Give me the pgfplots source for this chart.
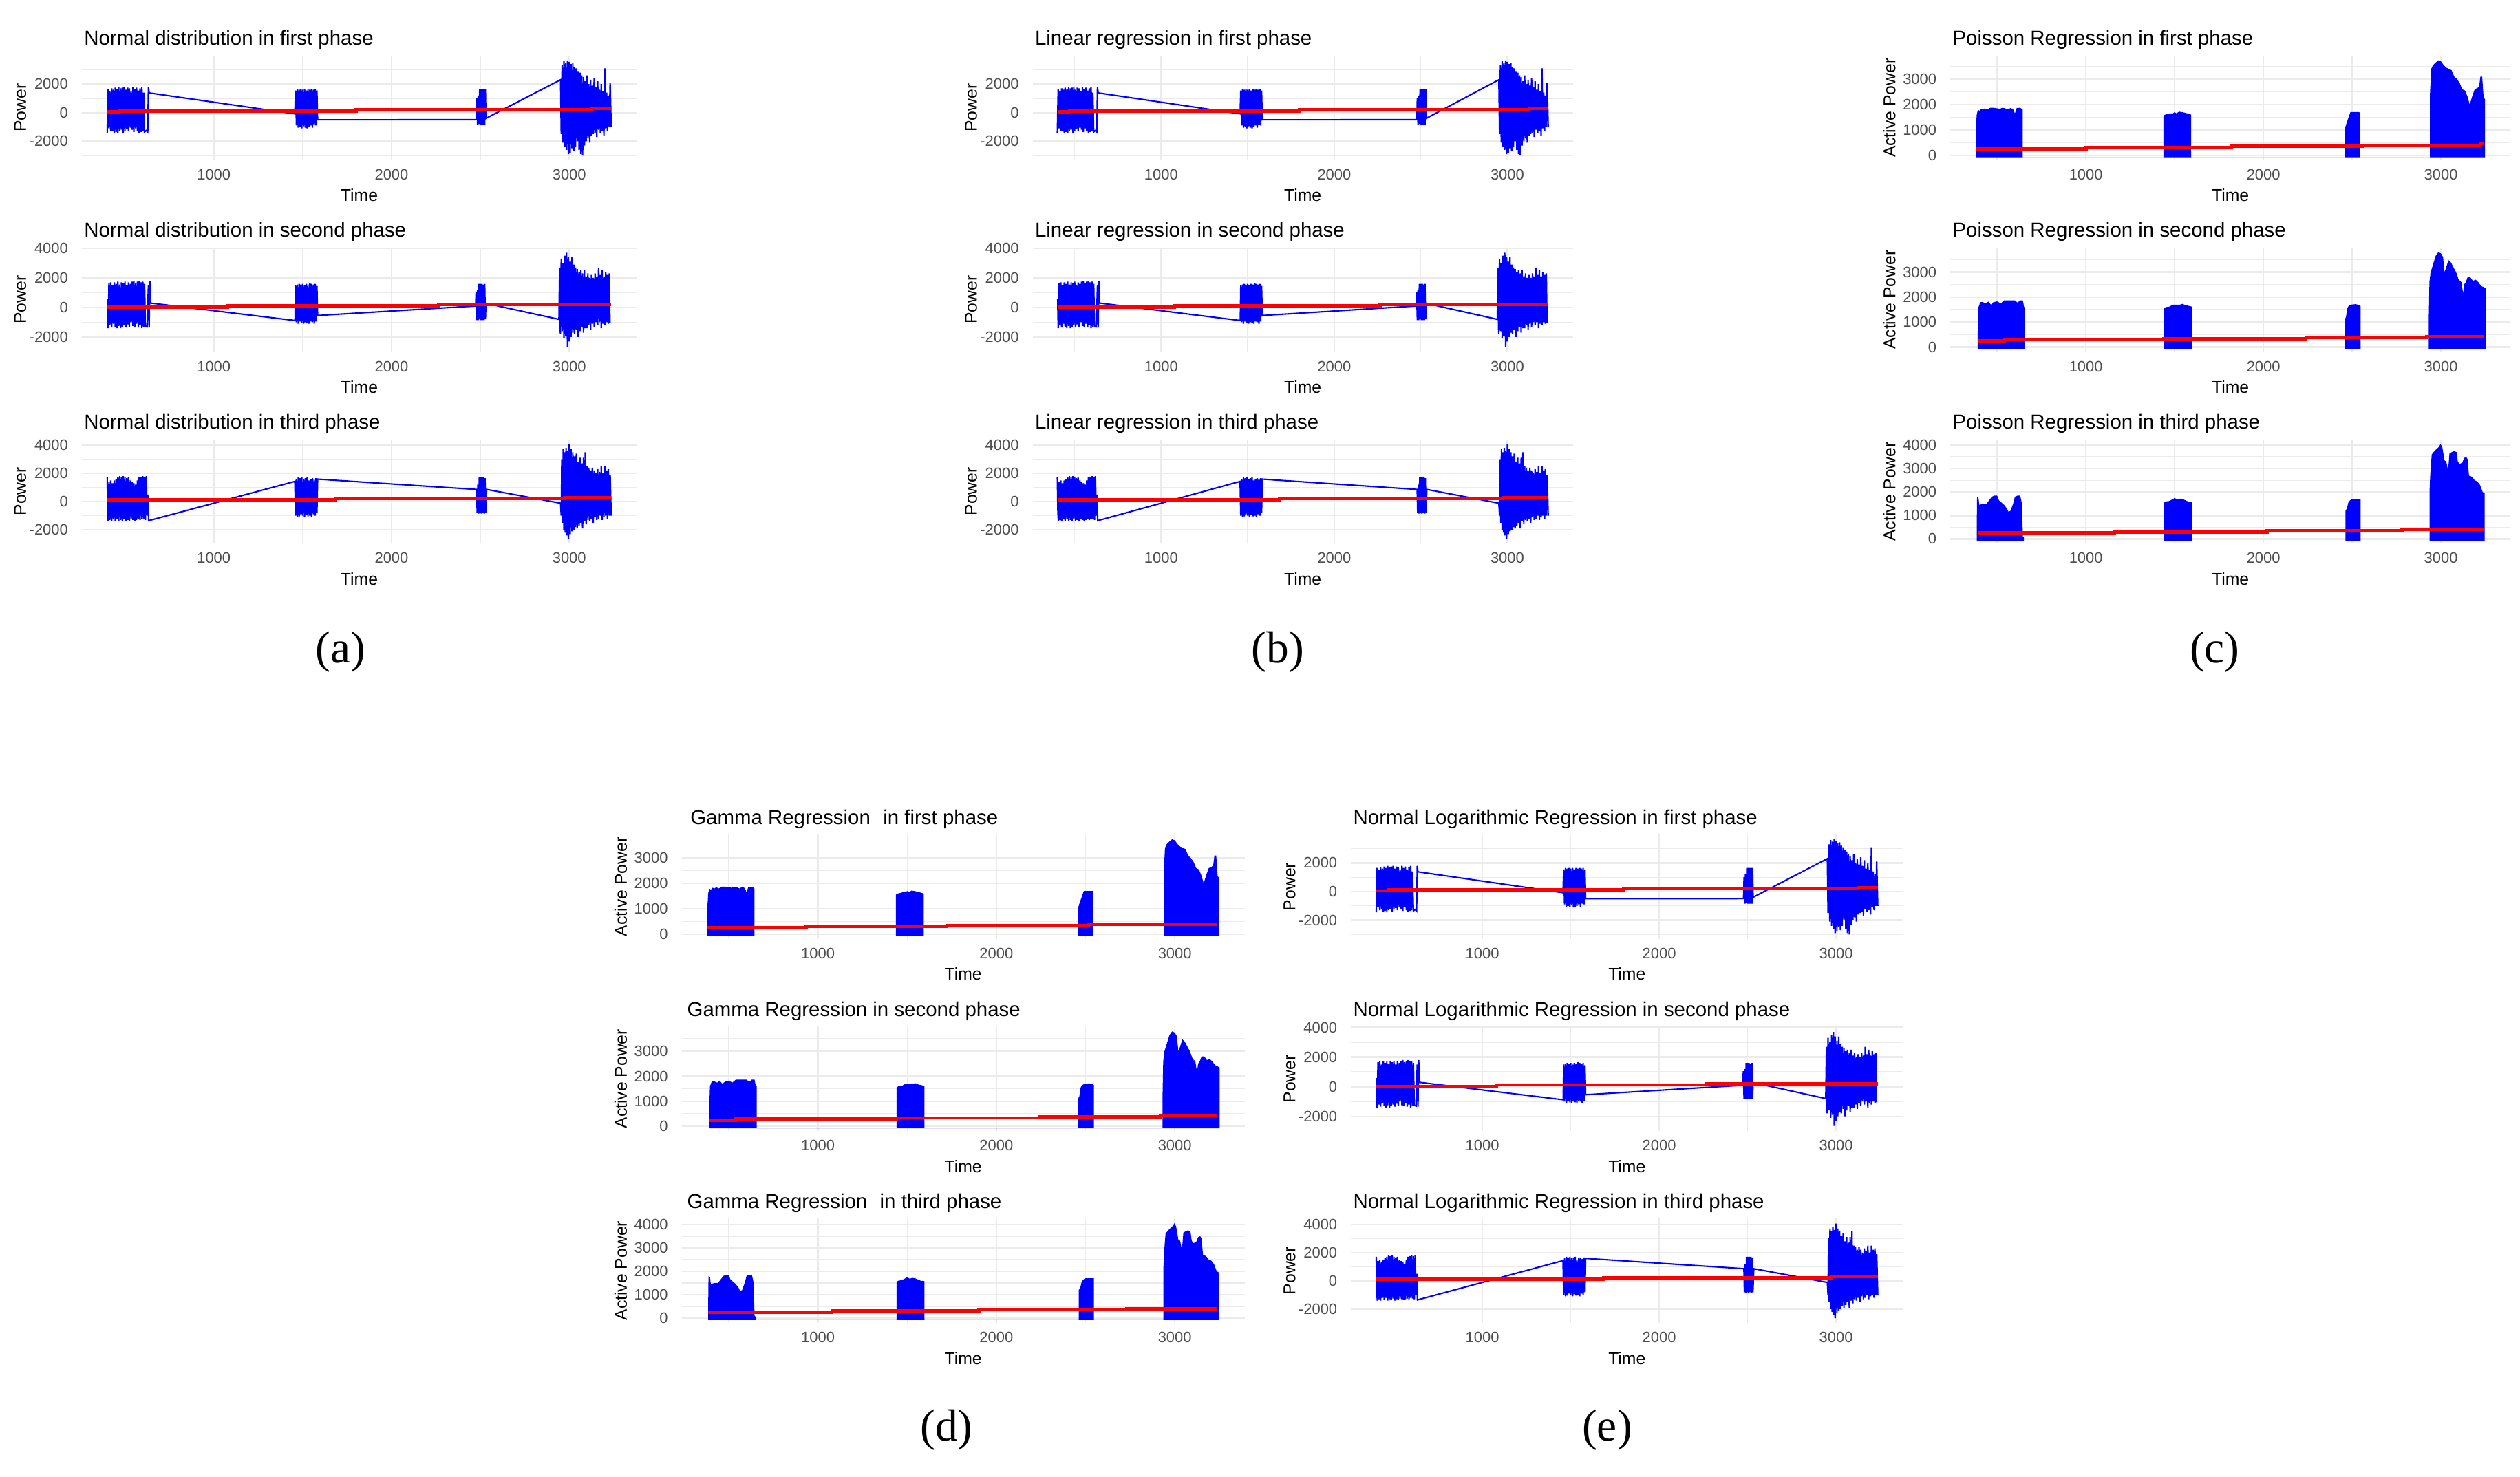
\documentclass[border=0pt]{standalone}
\usepackage{pgfplots}
\pgfplotsset{compat=1.18}
\usepackage{pgfplotstable}
\usepackage{fontspec}
\setmainfont{Liberation Sans}
\newfontfamily\capfont{Liberation Serif}
\definecolor{gridc}{HTML}{EBEBEB}
\definecolor{tickc}{HTML}{4D4D4D}

% ---------- Power, normal-type models (first, second, third phase) ----------
\pgfplotstableread{
t y
400 -1450
405 1650
410 -1100
415 1500
420 -1300
425 1700
430 -1250
435 1600
440 -1400
445 1750
450 -1350
455 1650
460 -1450
465 1800
470 -1300
475 1700
480 -1200
485 1750
490 -1400
495 1800
500 -1250
505 1600
510 -1150
515 1750
520 -1300
525 1700
530 -1050
535 1500
540 -1200
545 1800
550 -1350
555 1650
560 -1100
565 1750
570 -1300
575 1550
580 -1400
585 1700
590 -1350
595 1800
600 -1300
605 1400
610 -1350
620 -1250
628 -1350
632 1800
636 1380
1456 -80
1460 1550
1465 -900
1470 1650
1475 -1050
1480 1600
1485 -1000
1490 1650
1495 -1100
1500 1600
1505 -950
1510 1650
1515 -1050
1520 1550
1525 -1100
1530 1650
1535 -1000
1540 1600
1545 -900
1550 1650
1555 -1050
1560 1600
1565 -850
1570 1650
1575 -900
1580 1550
1584 -500
2477 -490
2480 1000
2484 -850
2488 1200
2492 -800
2496 1650
2500 -850
2504 1650
2508 -850
2512 1650
2516 -850
2520 1650
2524 -850
2528 1650
2531 -400
2951 2300
2955 -1500
2960 3300
2965 -2100
2970 3600
2975 -2400
2980 3500
2985 -2600
2990 3650
2995 -2900
3000 3550
3005 -2800
3010 3400
3015 -2500
3020 3450
3025 -2700
3030 3200
3035 -2400
3040 3100
3045 -2000
3050 2900
3055 -2600
3060 2800
3065 -2900
3070 2600
3075 -3000
3080 2500
3085 -2300
3090 2200
3095 -2000
3100 2600
3105 -1800
3110 2000
3115 -2100
3120 2300
3125 -1600
3130 1900
3135 -1500
3140 2400
3145 -1400
3150 1800
3155 -1700
3160 2200
3165 -1200
3170 1600
3175 -1400
3180 2000
3185 -1300
3190 1500
3195 -1600
3200 3100
3205 -1100
3210 1400
3215 -1300
3220 1200
3225 -1000
3230 2100
3236 -1000
}\NA

\pgfplotstableread{
t y
402 600
405 -1400
410 1650
415 -1200
420 1700
425 -1350
430 1500
435 -1100
440 1700
445 -1300
450 1600
455 -1400
460 1750
465 -1250
470 1550
475 -1400
480 1700
485 -1300
490 1650
495 -1200
500 1750
505 -1350
510 1500
515 -1150
520 1700
525 -1300
530 1600
535 -1000
540 1750
545 -1250
550 1800
555 -1300
560 1650
565 -1100
570 1750
575 -1350
580 1800
585 -1200
590 1700
595 -1400
600 1750
605 -1300
610 1600
615 -1250
625 -1300
632 1500
636 -1350
640 1800
643 300
1457 -880
1460 1500
1465 -1000
1470 1550
1475 -1100
1480 1600
1485 -950
1490 1550
1495 -1050
1500 1600
1505 -1100
1510 1500
1515 -1000
1520 1600
1525 -1050
1530 1550
1535 -1100
1540 1650
1545 -950
1550 1600
1555 -1000
1560 1550
1565 -1100
1570 1600
1575 -950
1580 1450
1584 -540
2473 100
2476 1050
2480 -850
2484 1200
2488 -850
2492 1600
2496 -800
2500 1600
2504 -850
2508 1600
2512 -850
2516 1550
2520 -850
2524 1600
2528 -800
2531 280
2942 -800
2946 2700
2950 -1800
2955 3300
2960 -1600
2965 3000
2970 -2100
2975 3500
2980 -1900
2985 3700
2990 -2650
2995 3400
3000 -2300
3005 3100
3010 -2000
3015 3400
3020 -1700
3025 2900
3030 -1800
3035 2700
3040 -1500
3045 2600
3050 -2000
3055 2400
3060 -1600
3065 2500
3070 -1300
3075 2300
3080 -1700
3085 2500
3090 -1400
3095 2100
3100 -1400
3105 2300
3110 -1200
3115 2000
3120 -1500
3125 2200
3130 -1100
3135 2000
3140 -1300
3145 2300
3150 -1000
3155 2100
3160 -1200
3165 2700
3170 -1000
3175 2200
3180 -1400
3185 2500
3190 -1100
3195 2100
3200 -1200
3205 2400
3210 -1000
3215 2200
3220 -1100
3225 2300
3229 -1050
}\NB

\pgfplotstableread{
t y
400 1700
403 -600
406 -1400
410 1400
415 -1300
420 1500
425 -1400
430 1300
435 -1200
440 1500
445 -1350
450 1600
455 -1200
460 1700
465 -1400
470 1800
475 -1300
480 1750
485 -1350
490 1800
495 -1250
500 1700
505 -1400
510 1650
515 -1300
520 1700
525 -1350
530 1500
535 -1250
540 1400
545 -1300
550 1300
555 -1350
560 1200
565 -1300
570 1500
575 -1250
580 1700
585 -1300
590 1750
595 -1200
600 1800
605 -1250
610 1750
615 -1300
620 1800
625 -1000
630 500
633 -1350
1456 1430
1460 -1000
1465 1600
1470 -1100
1475 1700
1480 -1050
1485 1650
1490 -900
1495 1700
1500 -1000
1505 1600
1510 -1100
1515 1650
1520 -950
1525 1700
1530 -1050
1535 1500
1540 -1000
1545 1600
1550 -1100
1555 1650
1560 -900
1565 1550
1570 -1000
1575 1650
1580 -800
1584 1590
2479 860
2482 -800
2486 1200
2490 -850
2494 1700
2498 -800
2502 1700
2506 -850
2510 1700
2514 -800
2518 1700
2522 -850
2526 1650
2530 -800
2535 860
2951 -110
2955 -1000
2958 3000
2962 -1500
2966 3700
2970 -2000
2974 3500
2978 -2200
2982 3800
2986 -2400
2990 3600
2995 -2640
3000 4050
3005 -2300
3010 3700
3015 -2100
3020 3500
3025 -2000
3030 3200
3035 -1800
3040 3400
3045 -1900
3050 2800
3055 -1700
3060 3100
3065 -1500
3070 2700
3075 -1900
3080 3100
3085 -1400
3090 3500
3095 -1600
3100 2500
3105 -1300
3110 2400
3115 -1400
3120 2200
3125 -1200
3130 2400
3135 -1500
3140 2200
3145 -1100
3150 2000
3155 -1300
3160 2300
3165 -1200
3170 2100
3175 -1000
3180 2500
3185 -1300
3190 2000
3195 -1100
3200 2500
3205 -1000
3210 2200
3215 -1200
3220 2300
3225 -1000
3230 1900
3236 -1000
}\NC

% fitted values (red)
\pgfplotstableread{
t y
400 50
470 50
470 110
1800 110
1800 210
3126 210
3126 290
3236 290
}\RA
\pgfplotstableread{
t y
402 30
1078 30
1078 120
2265 120
2265 200
3236 200
}\RB
\pgfplotstableread{
t y
400 120
1685 120
1685 220
2975 220
2975 300
3236 300
}\RC

% ---------- Active power, count-type models: outline of the blue bands ----------
\pgfplotstableread{
t y
380 -80
380 1000
385 1600
392 1800
400 1750
410 1830
420 1800
430 1850
445 1800
460 1870
480 1870
500 1850
515 1830
530 1870
545 1850
560 1800
575 1860
590 1820
600 1650
610 1860
625 1870
635 1850
644 1800
644 -80
1437 -80
1437 1550
1445 1600
1460 1620
1475 1650
1490 1650
1500 1700
1510 1650
1525 1720
1540 1700
1555 1680
1570 1650
1585 1620
1593 1600
1593 -80
2457 -80
2457 1000
2465 1200
2475 1400
2485 1600
2490 1700
2540 1700
2543 1650
2543 -80
2938 -80
2938 2400
2945 3400
2955 3550
2970 3650
2985 3740
3000 3700
3015 3550
3030 3450
3045 3400
3060 3350
3075 3100
3090 3000
3105 2850
3120 2600
3135 2550
3150 2300
3162 2000
3175 2300
3190 2600
3205 2650
3215 2700
3222 3100
3232 3100
3240 2300
3248 2200
3248 -80
}\PA

\pgfplotstableread{
t y
390 -80
390 500
395 1600
405 1800
420 1800
435 1750
450 1820
465 1700
480 1800
500 1830
520 1750
540 1870
560 1870
580 1870
600 1870
615 1780
630 1870
645 1870
652 1600
657 1600
657 -80
1441 -80
1441 1550
1450 1600
1470 1620
1490 1700
1510 1700
1530 1700
1545 1730
1560 1680
1580 1650
1597 1620
1597 -80
2458 -80
2458 1100
2465 1200
2472 1550
2480 1650
2495 1700
2520 1720
2540 1680
2547 1650
2547 -80
2931 -80
2931 1100
2935 2600
2942 3000
2955 3300
2970 3650
2985 3800
3000 3750
3012 3600
3020 3000
3030 3200
3042 3480
3055 3400
3070 3200
3085 3000
3100 2700
3115 2600
3125 2150
3130 2500
3140 2600
3150 2800
3165 2800
3180 2650
3195 2700
3210 2600
3225 2450
3240 2400
3251 2350
3251 -80
}\PB

\pgfplotstableread{
t y
385 -80
385 500
387 1800
395 1750
400 1450
420 1500
440 1500
455 1650
470 1800
485 1850
500 1850
510 1650
525 1550
540 1450
555 1300
565 1150
575 1200
590 1500
600 1800
615 1850
630 1850
640 1500
645 100
651 60
651 -80
1441 -80
1441 1550
1450 1600
1470 1620
1490 1700
1500 1750
1515 1680
1530 1720
1545 1700
1560 1650
1575 1600
1597 1580
1597 -80
2462 -80
2462 1200
2470 1300
2478 1550
2488 1650
2500 1700
2547 1700
2547 -80
2936 -80
2936 2100
2940 2800
2948 3600
2958 3700
2970 3800
2985 3900
2998 4050
3008 3900
3020 3350
3030 3300
3040 2900
3048 3650
3060 3700
3075 3750
3088 3700
3095 3300
3105 3200
3120 3250
3130 3450
3142 3500
3150 3400
3158 2700
3175 2650
3190 2500
3205 2450
3220 2300
3235 2000
3246 1950
3246 -80
}\PC

\pgfplotstableread{
t y
380 250
1000 250
1000 300
1820 300
1820 350
2560 350
2560 390
3220 390
3220 450
3240 450
}\QA
\pgfplotstableread{
t y
390 240
540 240
540 290
1440 290
1440 340
2240 340
2240 380
2920 380
2920 430
3240 430
}\QB
\pgfplotstableread{
t y
390 260
1160 260
1160 300
2020 300
2020 350
2780 350
2780 400
3240 400
}\QC
\pgfplotstableread{
t y
380 250
933 250
933 300
1723 300
1723 350
2514 350
2514 400
3240 400
}\GA
\pgfplotstableread{
t y
385 260
1079 260
1079 310
1903 310
1903 360
2730 360
2730 410
3240 410
}\GC

\pgfplotsset{
  gg/.style={
    anchor=north west, scale only axis, height=32.5pt,
    xmin=258, xmax=3378,
    xtick={1000,2000,3000}, minor xtick={500,1500,2500},
    grid=both,
    major grid style={draw=gridc, line width=0.5pt},
    minor grid style={draw=gridc, line width=0.3pt},
    axis line style={draw=none},
    major tick length=0pt, minor tick length=0pt,
    tick label style={font=\fontsize{4.7}{5.3}\selectfont, text=tickc},
    /pgf/number format/1000 sep={},
    /pgf/number format/assume math mode=true,
    yticklabel style={xshift=-0.8pt},
    xticklabel style={yshift=0.7pt},
    xlabel={Time},
    xlabel shift=-4pt,
    ylabel shift=-5.9pt,
    label style={font=\fontsize{5.3}{6}\selectfont},
    title style={at={(axis description cs:0,1)}, anchor=base west,
      yshift=-2.8pt, xshift=0.5pt, inner sep=0pt,
      font=\fontsize{6.3}{7}\selectfont},
  },
  n1/.style={gg, ylabel={Power}, ymin=-3312, ymax=3992,
    ytick={-2000,0,2000}, minor ytick={-3000,-1000,1000,3000}},
  n2/.style={gg, ylabel={Power}, ymin=-2998, ymax=4059,
    ytick={-2000,0,2000,4000}, minor ytick={-1000,1000,3000}},
  n3/.style={gg, ylabel={Power}, ymin=-2978, ymax=4414,
    ytick={-2000,0,2000,4000}, minor ytick={-1000,1000,3000}},
  pp/.style={gg, xmin=237, xmax=3391, ylabel={Active Power}, ylabel shift=-4.6pt},
  p1/.style={pp, ymin=-187, ymax=3927,
    ytick={0,1000,2000,3000}, minor ytick={500,1500,2500,3500}},
  p2/.style={pp, ymin=-190, ymax=3990,
    ytick={0,1000,2000,3000}, minor ytick={500,1500,2500,3500}},
  p3/.style={pp, ymin=-202, ymax=4252,
    ytick={0,1000,2000,3000,4000}, minor ytick={500,1500,2500,3500}},
}

% left, top, width, style, title, blue data, red data
\newcommand\nplot[7]{%
  \begin{axis}[#4, at={(#1pt,-#2pt)}, width=#3pt, title={#5}]
    \addplot[blue, line width=0.45pt] table {#6};
    \addplot[red, line width=1pt] table {#7};
  \end{axis}}
\newcommand\pplot[7]{%
  \begin{axis}[#4, at={(#1pt,-#2pt)}, width=#3pt, title={#5}]
    \addplot[fill=blue, draw=none] table {#6} -- cycle;
    \addplot[red, line width=1pt] table {#7};
  \end{axis}}

\begin{document}
\begin{tikzpicture}
\useasboundingbox (0,0) rectangle (784pt,-459.5pt);

% (a)
\nplot{25.5}{17.3}{172.5}{n1}{Normal distribution in first phase}{\NA}{\RA}
\nplot{25.5}{77}{172.5}{n2}{Normal distribution in second phase}{\NB}{\RB}
\nplot{25.5}{136.7}{172.5}{n3}{Normal distribution in third phase}{\NC}{\RC}
% (b)
\nplot{321.3}{17.3}{168}{n1}{Linear regression in first phase}{\NA}{\RA}
\nplot{321.3}{77}{168}{n2}{Linear regression in second phase}{\NB}{\RB}
\nplot{321.3}{136.7}{168}{n3}{Linear regression in third phase}{\NC}{\RC}
% (c)
\pplot{606.8}{17.3}{174.2}{p1}{Poisson Regression in first phase}{\PA}{\QA}
\pplot{606.8}{77}{174.2}{p2}{Poisson Regression in second phase}{\PB}{\QB}
\pplot{606.8}{136.7}{174.2}{p3}{Poisson Regression in third phase}{\PC}{\QC}
% (d)
\pplot{212.1}{259.7}{175.1}{p1}{\hspace{2pt}Gamma Regression\hspace{2.2pt} in first phase}{\PA}{\GA}
\pplot{212.1}{319.5}{175.1}{p2}{\hspace{1pt}Gamma Regression in second phase}{\PB}{\QB}
\pplot{212.1}{379.2}{175.1}{p3}{\hspace{1pt}Gamma Regression\hspace{2.2pt} in third phase}{\PC}{\GC}
% (e)
\nplot{420.35}{259.7}{171.65}{n1}{Normal Logarithmic Regression in first phase}{\NA}{\RA}
\nplot{420.35}{319.5}{171.65}{n2}{Normal Logarithmic Regression in second phase}{\NB}{\RB}
\nplot{420.35}{379.2}{171.65}{n3}{Normal Logarithmic Regression in third phase}{\NC}{\RC}

\node[font=\capfont\fontsize{14}{16}\selectfont] at (106pt,-203pt) {(a)};
\node[font=\capfont\fontsize{14}{16}\selectfont] at (397.5pt,-203pt) {(b)};
\node[font=\capfont\fontsize{14}{16}\selectfont] at (689pt,-203pt) {(c)};
\node[font=\capfont\fontsize{14}{16}\selectfont] at (294.5pt,-445pt) {(d)};
\node[font=\capfont\fontsize{14}{16}\selectfont] at (500pt,-445pt) {(e)};
\end{tikzpicture}
\end{document}
